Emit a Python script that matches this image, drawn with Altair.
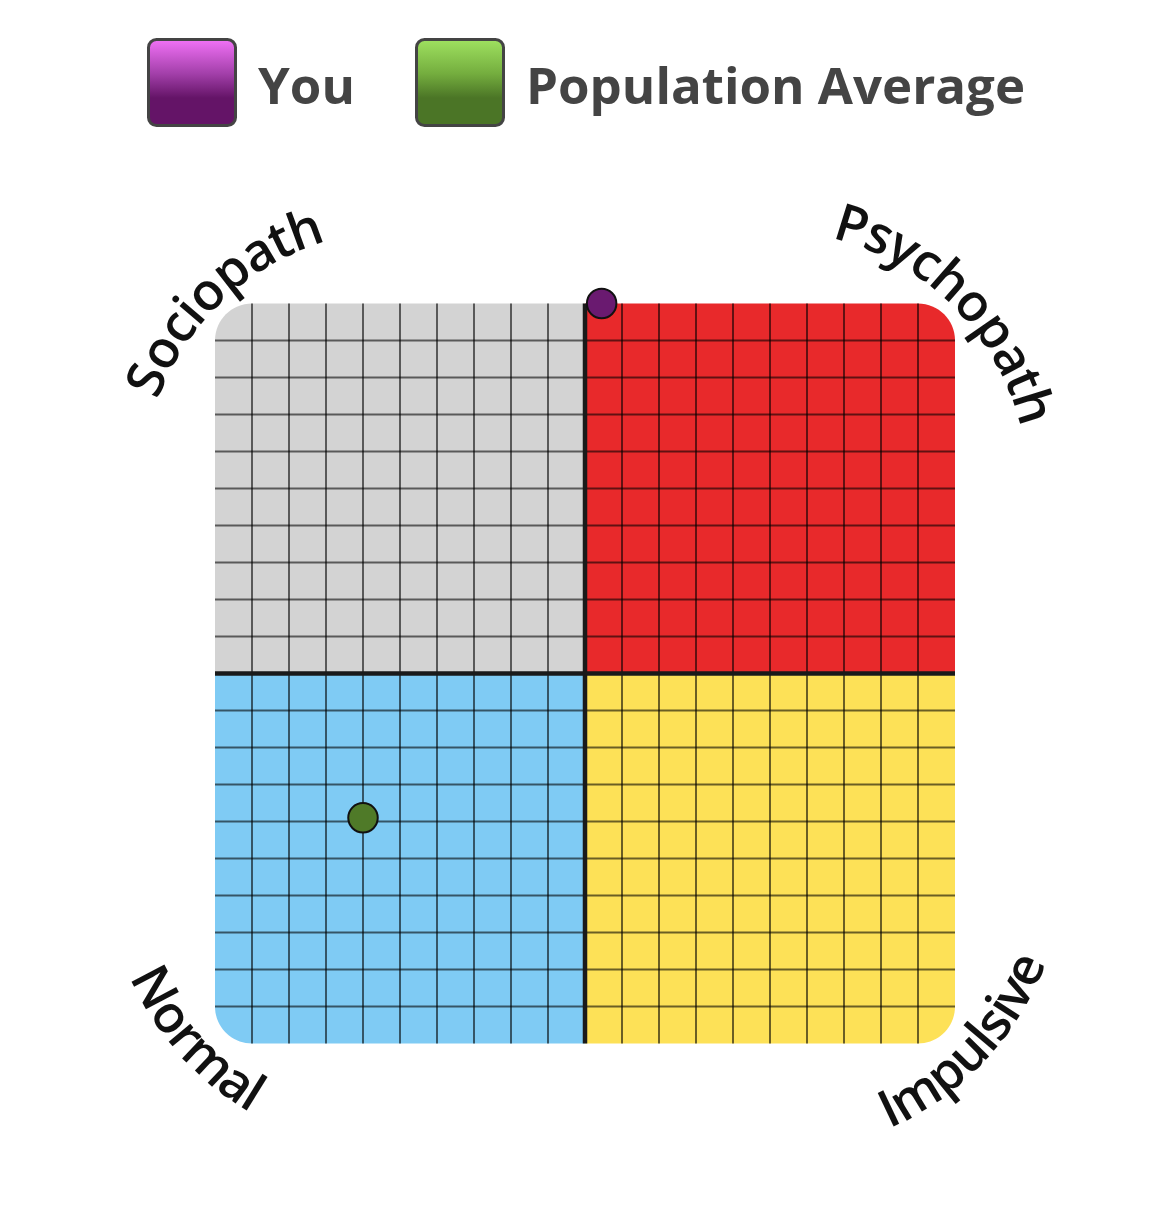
import math
import altair as alt
import pandas as pd

# ---------------- data ----------------
series = ["You", "Population Average"]
series_x = [0.45, -6.0]
series_y = [10.0, -3.9]
series_color = ["#6a1a70", "#4f7a28"]
series_grad_top = ["#f272f7", "#9fe160"]
series_grad_mid = ["#a23fa9", "#74ad3e"]
series_grad_bot = ["#641467", "#4b7526"]

quadrant_names = ["Sociopath", "Psychopath", "Normal", "Impulsive"]
quadrant_colors = ["#d3d3d3", "#e8292b", "#7fcbf4", "#fde157"]
quadrant_x0 = [-10, 0, -10, 0]
quadrant_x1 = [0, 10, 0, 10]
quadrant_y0 = [0, 0, -10, -10]
quadrant_y1 = [10, 10, 0, 0]
quadrant_corner = ["cornerRadiusTopLeft", "cornerRadiusTopRight",
                   "cornerRadiusBottomLeft", "cornerRadiusBottomRight"]

grid_ticks = [t for t in range(-9, 10) if t != 0]

label_mid_angle = [133.5, 45.0, 222.9, 315.9]
label_side = ["top", "top", "bottom", "bottom"]

# ---------------- layout ----------------
UNIT = 37.0                 # px per data unit
W, H = 1154, 1180
CX, CY = 585 - 8, 673.5 - 8  # plot center in chart px
XMIN, XMAX = -CX / UNIT, (W - CX) / UNIT
YMAX, YMIN = CY / UNIT, (CY - H) / UNIT

def px_x(px):
    return (px - 585) / UNIT

def px_y(py):
    return (673.5 - py) / UNIT

xs = alt.Scale(domain=[XMIN, XMAX], nice=False, zero=False)
ys = alt.Scale(domain=[YMIN, YMAX], nice=False, zero=False)

def X(f="x"):
    return alt.X(f"{f}:Q", scale=xs, axis=None)

def Y(f="y"):
    return alt.Y(f"{f}:Q", scale=ys, axis=None)

layers = []

# quadrants with rounded outer corners
qdf = pd.DataFrame({"name": quadrant_names, "x": quadrant_x0, "x2": quadrant_x1,
                    "y": quadrant_y0, "y2": quadrant_y1, "color": quadrant_colors})
for name, color, corner in zip(quadrant_names, quadrant_colors, quadrant_corner):
    layers.append(
        alt.Chart(qdf).transform_filter(alt.datum.name == name)
        .mark_rect(color=color, **{corner: 37})
        .encode(x=X(), x2="x2:Q", y=Y(), y2="y2:Q")
    )

# grid lines
vdf = pd.DataFrame({"x": grid_ticks, "y": [-10] * len(grid_ticks), "y2": [10] * len(grid_ticks)})
hdf = pd.DataFrame({"y": grid_ticks, "x": [-10] * len(grid_ticks), "x2": [10] * len(grid_ticks)})
layers.append(alt.Chart(vdf).mark_rule(color="#000000", opacity=0.58, strokeWidth=2)
              .encode(x=X(), y=Y(), y2="y2:Q"))
layers.append(alt.Chart(hdf).mark_rule(color="#000000", opacity=0.58, strokeWidth=2)
              .encode(y=Y(), x=X(), x2="x2:Q"))

# center axes
cdf_v = pd.DataFrame({"x": [0], "y": [-10], "y2": [10]})
cdf_h = pd.DataFrame({"y": [0], "x": [-10], "x2": [10]})
layers.append(alt.Chart(cdf_v).mark_rule(color="#1a1a1a", strokeWidth=4.5)
              .encode(x=X(), y=Y(), y2="y2:Q"))
layers.append(alt.Chart(cdf_h).mark_rule(color="#1a1a1a", strokeWidth=4.5)
              .encode(y=Y(), x=X(), x2="x2:Q"))

# points
pdf = pd.DataFrame({"series": series, "x": series_x, "y": series_y})
layers.append(
    alt.Chart(pdf).mark_circle(size=870, opacity=1, stroke="#111111", strokeWidth=2)
    .encode(x=X(), y=Y(),
            color=alt.Color("series:N", scale=alt.Scale(domain=series, range=series_color), legend=None))
)

# legend (custom)
legend_box_left = [148.5, 416.5]
legend_text_left = [258, 526]
for i, name in enumerate(series):
    bx0 = legend_box_left[i]
    ldf = pd.DataFrame({"x": [px_x(bx0)], "x2": [px_x(bx0 + 87)],
                        "y": [px_y(125.5)], "y2": [px_y(39.5)]})
    grad = alt.LinearGradient(
        gradient="linear", x1=0, x2=0, y1=0, y2=1,
        stops=[alt.GradientStop(color=series_grad_top[i], offset=0),
               alt.GradientStop(color=series_grad_mid[i], offset=0.4),
               alt.GradientStop(color=series_grad_bot[i], offset=0.68),
               alt.GradientStop(color=series_grad_bot[i], offset=1)])
    layers.append(
        alt.Chart(ldf).mark_rect(fill=grad, stroke="#444444", strokeWidth=3, cornerRadius=8)
        .encode(x=X(), x2="x2:Q", y=Y(), y2="y2:Q")
    )
    tdf = pd.DataFrame({"x": [px_x(legend_text_left[i])], "y": [px_y(104)], "t": [name]})
    layers.append(
        alt.Chart(tdf).mark_text(align="left", baseline="alphabetic", font="Open Sans",
                                 fontWeight="bold", fontSize=51, color="#444444")
        .encode(x=X(), y=Y(), text="t:N")
    )

# curved quadrant labels (one text mark per letter along an arc around the quadrant centre)
char_w = {"a": .556, "c": .476, "e": .561, "h": .614, "i": .253, "l": .253, "m": .930,
          "o": .604, "p": .613, "r": .408, "s": .477, "t": .353, "u": .614, "v": .501,
          "y": .501, "N": .77, "S": .536, "P": .586, "I": .293}
FS = 52
R_TOP, R_BOT = 258.0, 295.0
rows = []
for qi, (name, mid, side) in enumerate(zip(quadrant_names, label_mid_angle, label_side)):
    qcx = (quadrant_x0[qi] + quadrant_x1[qi]) / 2
    qcy = (quadrant_y0[qi] + quadrant_y1[qi]) / 2
    adv = [char_w.get(c, .55) * FS for c in name]
    centers = []
    s = 0.0
    for a in adv:
        centers.append(s + a / 2)
        s += a
    smid = (centers[0] + centers[-1]) / 2
    R = R_TOP if side == "top" else R_BOT
    for c, sc in zip(name, centers):
        off = math.degrees((sc - smid) / R)
        th = mid - off if side == "top" else mid + off
        rot = (90 - th) % 360 if side == "top" else (270 - th) % 360
        rows.append({"ch": c,
                     "x": qcx + R * math.cos(math.radians(th)) / UNIT,
                     "y": qcy + R * math.sin(math.radians(th)) / UNIT,
                     "rot": rot})
ldf = pd.DataFrame(rows)
layers.append(
    alt.Chart(ldf).mark_text(align="center", baseline="alphabetic", font="Open Sans",
                             fontSize=FS, fontWeight=600, color="#111111")
    .encode(x=X(), y=Y(), text="ch:N", angle=alt.Angle("rot:Q", scale=None))
)

chart = (
    alt.layer(*layers)
    .properties(width=W, height=H, padding=0, background="white",
                autosize=alt.AutoSizeParams(type="none"))
    .configure_view(strokeWidth=0)
)

chart.save("out.html", embed_options={"renderer": "svg", "actions": False})
